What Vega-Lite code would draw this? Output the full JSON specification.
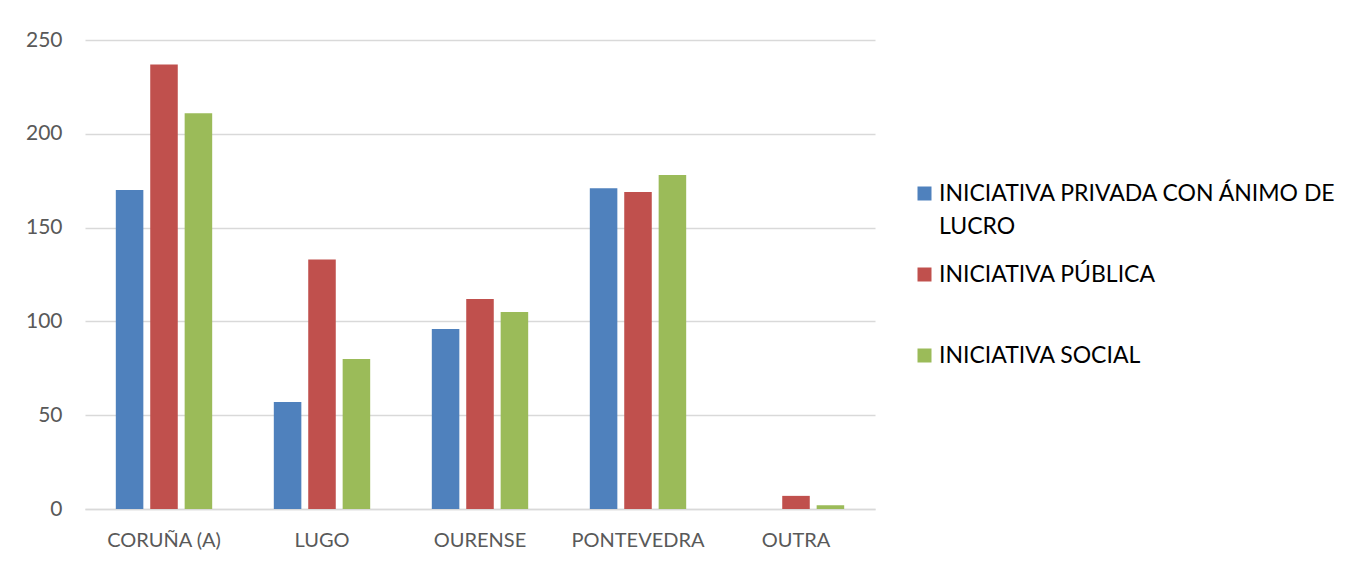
{
  "$schema": "https://vega.github.io/schema/vega-lite/v6.json",
  "width": 790,
  "height": 469,
  "autosize": {"type": "none"},
  "padding": {"left": 85, "top": 40, "right": 479, "bottom": 53},
  "background": "white",
  "config": {
    "font": "Lato",
    "view": {"stroke": null},
    "style": {"guide-label": {"lineHeight": 33}}
  },
  "data": {
    "values": [
      {"provincia": "CORUÑA (A)", "serie": "INICIATIVA PRIVADA CON ÁNIMO DE LUCRO", "valor": 170},
      {"provincia": "CORUÑA (A)", "serie": "INICIATIVA PÚBLICA", "valor": 237},
      {"provincia": "CORUÑA (A)", "serie": "INICIATIVA SOCIAL", "valor": 211},
      {"provincia": "LUGO", "serie": "INICIATIVA PRIVADA CON ÁNIMO DE LUCRO", "valor": 57},
      {"provincia": "LUGO", "serie": "INICIATIVA PÚBLICA", "valor": 133},
      {"provincia": "LUGO", "serie": "INICIATIVA SOCIAL", "valor": 80},
      {"provincia": "OURENSE", "serie": "INICIATIVA PRIVADA CON ÁNIMO DE LUCRO", "valor": 96},
      {"provincia": "OURENSE", "serie": "INICIATIVA PÚBLICA", "valor": 112},
      {"provincia": "OURENSE", "serie": "INICIATIVA SOCIAL", "valor": 105},
      {"provincia": "PONTEVEDRA", "serie": "INICIATIVA PRIVADA CON ÁNIMO DE LUCRO", "valor": 171},
      {"provincia": "PONTEVEDRA", "serie": "INICIATIVA PÚBLICA", "valor": 169},
      {"provincia": "PONTEVEDRA", "serie": "INICIATIVA SOCIAL", "valor": 178},
      {"provincia": "OUTRA", "serie": "INICIATIVA PRIVADA CON ÁNIMO DE LUCRO", "valor": 0},
      {"provincia": "OUTRA", "serie": "INICIATIVA PÚBLICA", "valor": 7},
      {"provincia": "OUTRA", "serie": "INICIATIVA SOCIAL", "valor": 2}
    ]
  },
  "mark": {"type": "bar"},
  "encoding": {
    "x": {
      "field": "provincia",
      "type": "nominal",
      "sort": null,
      "scale": {"paddingInner": 0.39, "paddingOuter": 0.195},
      "axis": {
        "title": null,
        "labelAngle": 0,
        "labelFontSize": 20,
        "labelColor": "#595959",
        "labelPadding": 21,
        "ticks": false,
        "domainColor": "#D9D9D9",
        "domainWidth": 1.5
      }
    },
    "xOffset": {
      "field": "serie",
      "type": "nominal",
      "scale": {"paddingInner": 0.2, "paddingOuter": 0}
    },
    "y": {
      "field": "valor",
      "type": "quantitative",
      "scale": {"domain": [0, 250]},
      "axis": {
        "title": null,
        "values": [0, 50, 100, 150, 200, 250],
        "labelFontSize": 21,
        "labelColor": "#595959",
        "labelPadding": 23,
        "ticks": false,
        "domain": false,
        "gridColor": "#D9D9D9",
        "gridWidth": 1.5
      }
    },
    "color": {
      "field": "serie",
      "type": "nominal",
      "scale": {
        "domain": ["INICIATIVA PRIVADA CON ÁNIMO DE LUCRO", "INICIATIVA PÚBLICA", "INICIATIVA SOCIAL"],
        "range": ["#4F81BD", "#C0504D", "#9BBB59"]
      },
      "legend": {
        "title": null,
        "orient": "none",
        "legendX": 828,
        "legendY": 142,
        "gridAlign": "all",
        "symbolType": "square",
        "symbolSize": 196,
        "symbolStrokeWidth": 0,
        "labelFontSize": 23,
        "labelColor": "#000000",
        "labelOffset": 3,
        "labelLimit": 500,
        "rowPadding": 24,
        "labelExpr": "datum.label == 'INICIATIVA PRIVADA CON ÁNIMO DE LUCRO' ? ['INICIATIVA PRIVADA CON ÁNIMO DE', 'LUCRO'] : datum.label"
      }
    }
  }
}
